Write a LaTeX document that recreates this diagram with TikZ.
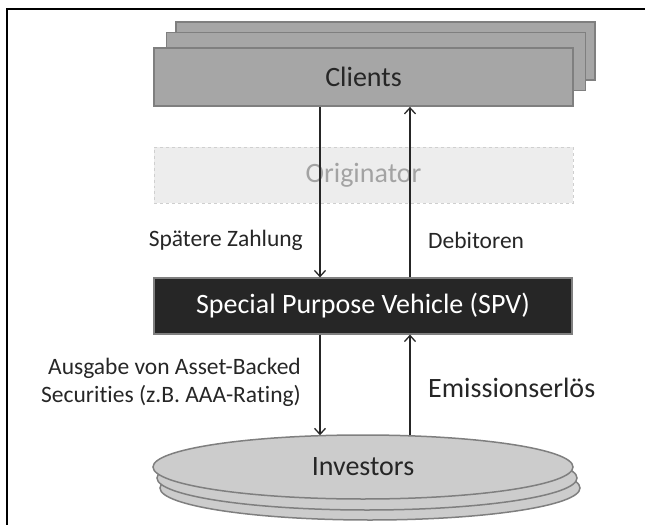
\documentclass[tikz,border=0pt]{standalone}
\usepackage{fontspec}
\setmainfont{Carlito}[Ligatures={NoCommon}]
\usetikzlibrary{shapes.geometric,arrows.meta}
\definecolor{txtdark}{HTML}{262626}
\definecolor{clientfill}{HTML}{A6A6A6}
\definecolor{edgegray}{HTML}{7F7F7F}
\definecolor{origfill}{HTML}{EDEDED}
\definecolor{origedge}{HTML}{CFCFCF}
\definecolor{origtext}{HTML}{A3A3A3}
\definecolor{invfill}{HTML}{CCCCCC}
\tikzset{
  bigfont/.style={font=\fontsize{28bp}{30bp}\selectfont},
  clientbox/.style={draw=edgegray, line width=1.8bp, fill=clientfill, minimum width=419bp, minimum height=58bp, inner sep=0},
  origbox/.style={draw=origedge, dashed, line width=0.8bp, fill=origfill, minimum width=419bp, minimum height=56bp, inner sep=0, text=origtext, bigfont},
  spvbox/.style={draw=edgegray, line width=1.2bp, fill=txtdark, minimum width=418bp, minimum height=56bp, inner sep=0, text=white, bigfont},
  invdisk/.style={ellipse, draw=edgegray, line width=1.5bp, fill=invfill, minimum width=420bp, minimum height=64bp, inner sep=0},
  flow/.style={draw=txtdark, line width=1.5bp, -{Straight Barb[length=6bp,width=11bp,line width=1.3bp]}},
  lbl/.style={text=txtdark, inner sep=0, font=\fontsize{23.5bp}{28bp}\selectfont},
  biglbl/.style={text=txtdark, inner sep=0, bigfont}
}
\begin{document}
\begin{tikzpicture}[x=1bp, y=-1bp]
  \useasboundingbox (0,0) rectangle (645,525);
  % frame edges
  \draw[line width=2.6bp] (7,525) -- (7,9) -- (645,9);

  % stacked client boxes
  \node[clientbox] (clientsC) at (385.5,51) {};
  \node[clientbox] (clientsB) at (376,61.5) {};
  \node[clientbox, text=txtdark, bigfont] (clients) at (363.5,77) {Clients};

  % originator (faded)
  \node[origbox] (orig) at (363.5,175) {Originator};

  % special purpose vehicle
  \node[spvbox] (spv) at (363,306) {Special Purpose Vehicle (SPV)};

  % stacked investor disks
  \node[invdisk] (invC) at (370,488) {};
  \node[invdisk] (invB) at (367,478) {};
  \node[invdisk, text=txtdark, bigfont] (inv) at (363,467) {Investors};

  % flow columns
  \coordinate (down) at (320,0);
  \coordinate (up) at (410,0);

  \draw[flow] (clients.south -| down) -- (spv.north -| down);
  \draw[flow] (spv.north -| up) -- (clients.south -| up);
  \draw[flow] (spv.south -| down) -- ([yshift=-1bp]inv.north -| down);
  \draw[flow] ([yshift=-1bp]inv.north -| up) -- (spv.south -| up);

  % flow labels
  \node[lbl, anchor=base east] (pay) at (303,247) {Spätere Zahlung};
  \node[lbl, anchor=base west] (deb) at (428,249) {Debitoren};
  \node[lbl, anchor=base east] (abs1) at (301,374) {Ausgabe von Asset-Backed};
  \node[lbl, anchor=base east] (abs2) at (301,402) {Securities (z.B. AAA-Rating)};
  \node[biglbl, anchor=base west] (proc) at (428,397) {Emissionserlös};
\end{tikzpicture}
\end{document}
